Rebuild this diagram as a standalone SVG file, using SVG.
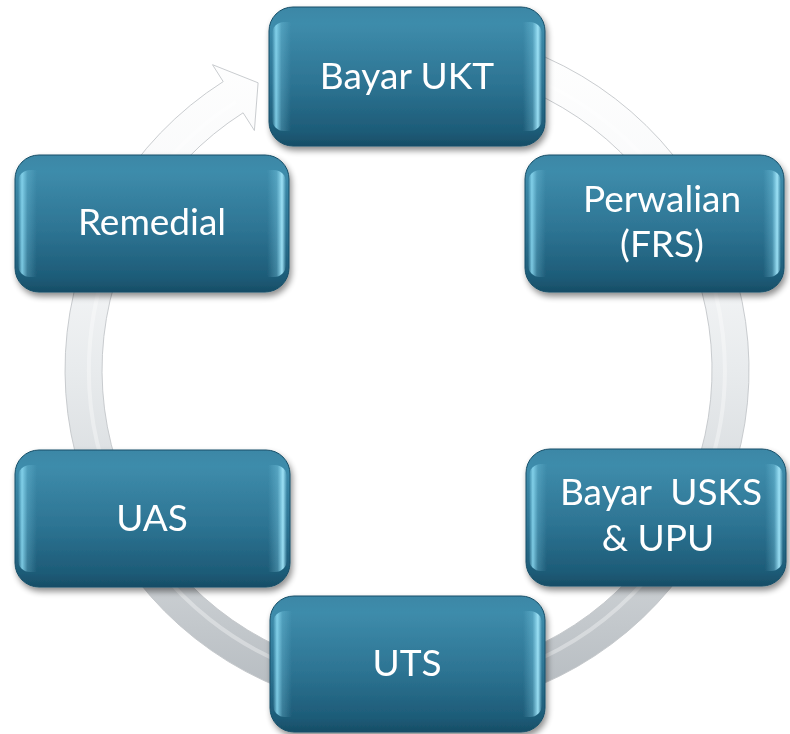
<svg xmlns="http://www.w3.org/2000/svg" width="790" height="734" viewBox="0 0 790 734">
  <defs>
    <linearGradient id="ringFill" gradientUnits="userSpaceOnUse" x1="0" y1="28" x2="0" y2="712">
      <stop offset="0" stop-color="#ffffff"/>
      <stop offset="0.3" stop-color="#f7f8f9"/>
      <stop offset="0.5" stop-color="#e8ebed"/>
      <stop offset="0.75" stop-color="#d2d6d9"/>
      <stop offset="1" stop-color="#b3b9be"/>
    </linearGradient>
    <linearGradient id="nodeFill" x1="0" y1="0" x2="0" y2="1">
      <stop offset="0" stop-color="#3b87a6"/>
      <stop offset="0.12" stop-color="#3e8cab"/>
      <stop offset="0.55" stop-color="#2d7493"/>
      <stop offset="0.9" stop-color="#1d5b77"/>
      <stop offset="1" stop-color="#174d66"/>
    </linearGradient>
    <linearGradient id="bevelH" x1="0" y1="0" x2="1" y2="0">
      <stop offset="0" stop-color="#8ddcf4" stop-opacity="0"/>
      <stop offset="0.015" stop-color="#8ddcf4" stop-opacity="0.85"/>
      <stop offset="0.035" stop-color="#8ddcf4" stop-opacity="0.25"/>
      <stop offset="0.07" stop-color="#8ddcf4" stop-opacity="0"/>
      <stop offset="0.93" stop-color="#8ddcf4" stop-opacity="0"/>
      <stop offset="0.965" stop-color="#8ddcf4" stop-opacity="0.3"/>
      <stop offset="0.985" stop-color="#a2e6fa" stop-opacity="0.95"/>
      <stop offset="1" stop-color="#a2e6fa" stop-opacity="0"/>
    </linearGradient>
    <filter id="shadow" x="-10%" y="-10%" width="120%" height="130%">
      <feGaussianBlur in="SourceAlpha" stdDeviation="3"/>
      <feOffset dx="2" dy="4" result="b"/>
      <feComponentTransfer><feFuncA type="linear" slope="0.45"/></feComponentTransfer>
      <feMerge><feMergeNode/><feMergeNode in="SourceGraphic"/></feMerge>
    </filter>
    <style>
      .box { fill: url(#nodeFill); stroke: #184f68; stroke-width: 1; }
      .bevel { fill: url(#bevelH); }
      .lbl { font-family: Lato, "Open Sans", "Liberation Sans", sans-serif; font-size: 37px; fill: #ffffff; text-anchor: middle; white-space: pre; }
      .ring { fill: url(#ringFill); stroke: #c3c6c9; stroke-width: 0.9; }
      .ringHi { fill: none; stroke: #ffffff; stroke-opacity: 0.35; stroke-width: 4; }
    </style>
  </defs>
  <rect width="790" height="734" fill="#ffffff"/>

  <g id="connectors">
    <path class="ring" d="M 407,28 A 342 342 0 1 1 223.2,81.6 L 212.5,64.7 L 258.1,82.8 L 254.4,130.5 L 243.1,112.8 A 305 305 0 1 0 407,65 Z"/>
    <path class="ringHi" d="M 407,52 A 318 318 0 1 1 236,101.8"/>
  </g>

  <g id="node-bayar-ukt" filter="url(#shadow)">
    <rect class="box" x="269" y="7" width="276" height="139" rx="24"/>
    <rect class="bevel" x="272" y="22" width="270" height="109" rx="12"/>
    <text class="lbl" x="407" y="89">Bayar UKT</text>
  </g>

  <g id="node-perwalian" filter="url(#shadow)">
    <rect class="box" x="525" y="155" width="259" height="137" rx="24"/>
    <rect class="bevel" x="528" y="170" width="253" height="107" rx="12"/>
    <text class="lbl" x="662" y="212">Perwalian</text>
    <text class="lbl" x="662" y="257">(FRS)</text>
  </g>

  <g id="node-bayar-usks" filter="url(#shadow)">
    <rect class="box" x="526" y="449" width="260" height="137" rx="24"/>
    <rect class="bevel" x="529" y="464" width="254" height="107" rx="12"/>
    <text class="lbl" x="661" y="505">Bayar  USKS</text>
    <text class="lbl" x="658" y="551">&amp; UPU</text>
  </g>

  <g id="node-uts" filter="url(#shadow)">
    <rect class="box" x="270" y="596" width="275" height="136" rx="24"/>
    <rect class="bevel" x="273" y="611" width="269" height="106" rx="12"/>
    <text class="lbl" x="407" y="676">UTS</text>
  </g>

  <g id="node-uas" filter="url(#shadow)">
    <rect class="box" x="15" y="450" width="275" height="137" rx="24"/>
    <rect class="bevel" x="18" y="465" width="269" height="107" rx="12"/>
    <text class="lbl" x="152" y="531">UAS</text>
  </g>

  <g id="node-remedial" filter="url(#shadow)">
    <rect class="box" x="15" y="155" width="274" height="137" rx="24"/>
    <rect class="bevel" x="18" y="170" width="268" height="107" rx="12"/>
    <text class="lbl" x="152" y="235">Remedial</text>
  </g>
</svg>
